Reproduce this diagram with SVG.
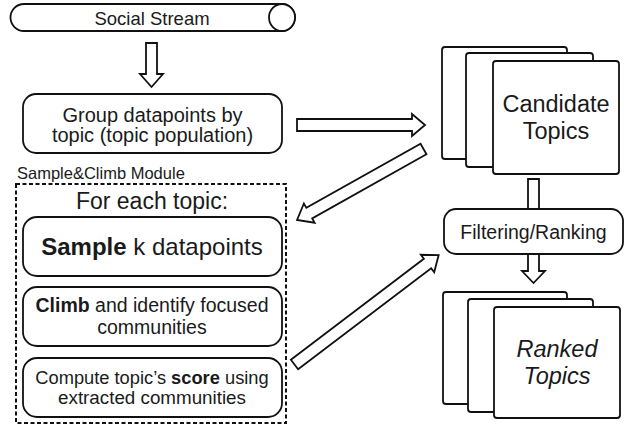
<svg xmlns="http://www.w3.org/2000/svg" width="629" height="427" viewBox="0 0 629 427">
<style>
  .box { fill: #ffffff; stroke: #111111; stroke-width: 1.8; }
  .card { fill: #ffffff; stroke: #111111; stroke-width: 1.8; }
  .arrow { fill: #ffffff; stroke: #111111; stroke-width: 1.8; stroke-linejoin: miter; }
  .dash { fill: none; stroke: #111111; stroke-width: 2; stroke-dasharray: 4 2.5; }
  text { font-family: "Liberation Sans", Arial, sans-serif; fill: #1a1a1a; text-anchor: middle; }
  .b { font-weight: bold; }
</style>
<rect width="629" height="427" fill="#ffffff"/>

<g id="connectors">
  <path class="arrow" d="M146,43 H157 V74 H163 L151.5,87 L140,74 H146 Z"/>
  <path class="arrow" d="M297,119 H412 V114 L425,125 L412,136 V131 H297 Z"/>
  <path class="arrow" transform="translate(423.5,149) rotate(150.7)" d="M0,-6 H131 V-11 L145,0 L131,11 V6 H0 Z"/>
  <path class="arrow" transform="translate(294.5,364.5) rotate(-37.2)" d="M0,-6 H167 V-11 L181,0 L167,11 V6 H0 Z"/>
  <path class="arrow" d="M528,179 H539 V212 H528 Z"/>
  <path class="arrow" d="M528,254 H539 V271 H545 L533.5,283 L522,271 H528 Z"/>
</g>

<g id="social-stream">
  <path class="box" d="M24,4 H282 A13,13.5 0 0 1 282,31 H24 A13.5,13.5 0 0 1 24,4 Z"/>
  <ellipse class="box" cx="282" cy="17.5" rx="13" ry="13.5"/>
  <text x="152" y="25" font-size="18.5">Social Stream</text>
</g>

<g id="group-datapoints">
  <rect class="box" x="23" y="94" width="259" height="59" rx="13"/>
  <text x="152.5" y="122" font-size="20">Group datapoints by</text>
  <text x="152.5" y="142" font-size="20">topic (topic population)</text>
</g>

<g id="sample-climb-module">
  <text x="17" y="179" font-size="16.5" style="text-anchor:start">Sample&amp;Climb Module</text>
  <rect class="dash" x="16" y="184" width="270" height="239"/>
  <text x="152" y="209" font-size="23">For each topic:</text>
</g>

<g id="sample">
  <rect class="box" x="23" y="217" width="259" height="59" rx="14"/>
  <text x="152" y="255" font-size="24"><tspan class="b">Sample</tspan> k datapoints</text>
</g>

<g id="climb">
  <rect class="box" x="23" y="287" width="259" height="59" rx="14"/>
  <text x="152" y="312" font-size="19.5"><tspan class="b">Climb</tspan> and identify focused</text>
  <text x="152" y="334" font-size="19.5">communities</text>
</g>

<g id="compute">
  <rect class="box" x="23" y="358" width="259" height="59" rx="14"/>
  <text x="152" y="384" font-size="18.3">Compute topic’s <tspan class="b">score</tspan> using</text>
  <text x="152" y="404" font-size="18.8">extracted communities</text>
</g>

<g id="candidate-topics">
  <rect class="card" x="442" y="47" width="125" height="112" rx="3"/>
  <rect class="card" x="466" y="53" width="127" height="114" rx="3"/>
  <rect class="card" x="493" y="61" width="126" height="113" rx="3"/>
  <text x="556" y="112" font-size="23.5">Candidate</text>
  <text x="556" y="139" font-size="23.5">Topics</text>
</g>

<g id="filtering-ranking">
  <rect class="box" x="444" y="209" width="179" height="45" rx="12"/>
  <text x="533.5" y="239" font-size="19.5">Filtering/Ranking</text>
</g>

<g id="ranked-topics">
  <rect class="card" x="443" y="292" width="124" height="112" rx="3"/>
  <rect class="card" x="468" y="299" width="125" height="113" rx="3"/>
  <rect class="card" x="494" y="307" width="126" height="111" rx="3"/>
  <text x="557" y="357" font-size="23.5" font-style="italic">Ranked</text>
  <text x="557" y="384" font-size="23.5" font-style="italic">Topics</text>
</g>
</svg>
